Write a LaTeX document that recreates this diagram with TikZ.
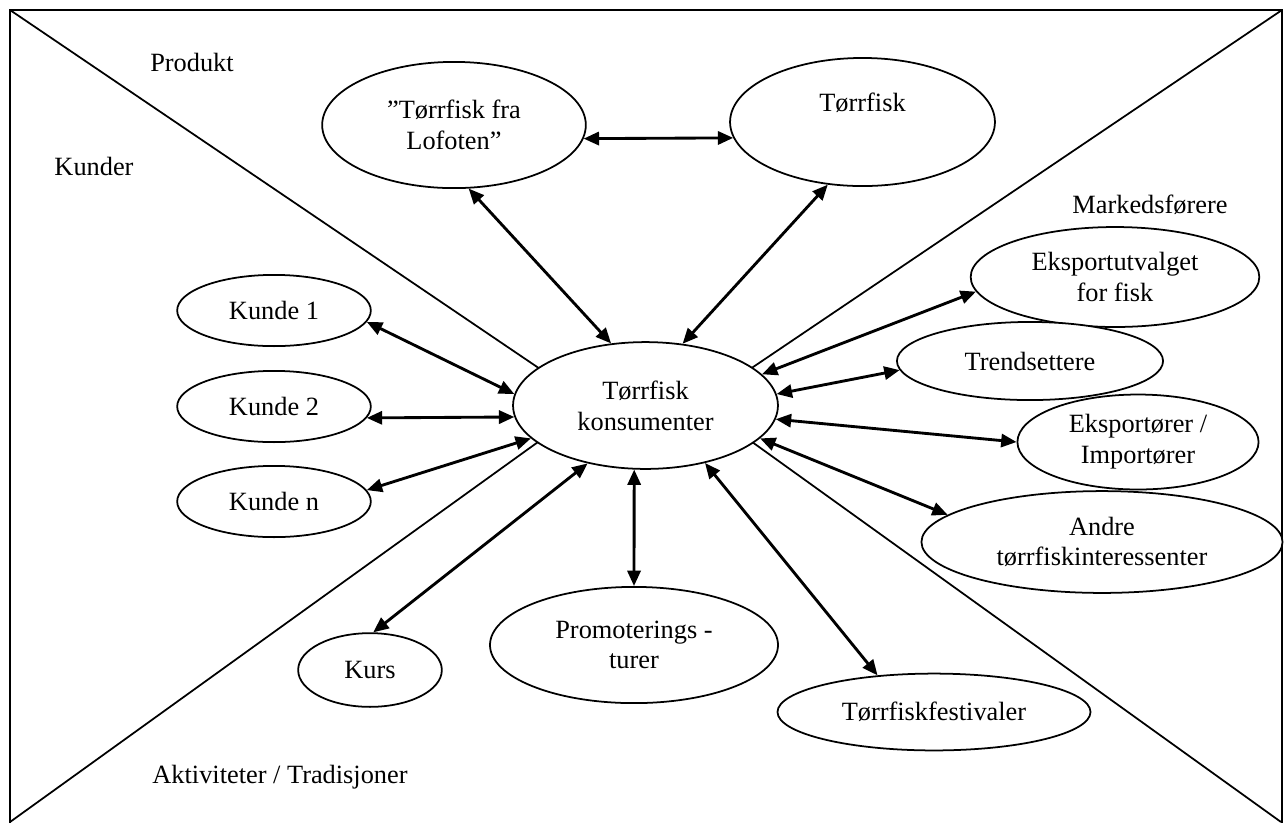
\documentclass[tikz,border=0pt,12pt]{standalone}
\usepackage{fontspec}
\setmainfont{Liberation Serif}
\usetikzlibrary{shapes.geometric,arrows.meta}

\begin{document}
\begin{tikzpicture}[x=0.016cm,y=-0.016cm,
		every node/.append style={font=\fontsize{12}{14}\selectfont},
		bubble/.style={ellipse,draw,line width=0.8pt,fill=white,align=center,inner sep=1pt},
		biarrow/.style={{Triangle[length=7pt,width=6pt]}-{Triangle[length=7pt,width=6pt]},line width=1.3pt}]
	\useasboundingbox (0,0) rectangle (1284,823);
	% frame and the four corner lines
	\coordinate (tl) at (10,10);
	\coordinate (tr) at (1282,10);
	\coordinate (bl) at (10,822);
	\coordinate (br) at (1281,822);
	\coordinate (upmeet) at (645,440);
	\coordinate (lowmeet) at (645,365);
	\draw[line width=0.9pt] (10,823) -- (tl) -- (tr) -- (1282,823);
	\draw[line width=0.8pt] (tl) -- (upmeet) -- (tr);
	\draw[line width=0.8pt] (bl) -- (lowmeet) -- (br);
	% section labels
	\node (produkt) at (192,62) {Produkt};
	\node (kunder) at (94,166) {Kunder};
	\node (markedsforere) at (1150,205) {Markedsførere};
	\node (aktiviteter) at (280,777) {Aktiviteter / Tradisjoner};
	% ellipses
	\node[bubble,minimum width=4.24cm,minimum height=2.03cm] (konsument) at (645.5,405.5) {Tørrfisk\\konsumenter};
	\node[bubble,minimum width=4.22cm,minimum height=2.02cm] (lofoten) at (454,125) {”Tørrfisk fra\\Lofoten”};
	\node[bubble,minimum width=4.24cm,minimum height=2.05cm,text depth=18pt] (torrfisk) at (862.5,122) {Tørrfisk};
	\foreach \y/\k in {310.5/1,406.5/2,501.5/n} {
		\node[bubble,minimum width=3.1cm,minimum height=1.14cm] (kunde\k) at (274,\y) {Kunde \k};
	}
	\node[bubble,minimum width=4.62cm,minimum height=1.6cm] (utvalget) at (1115,277) {Eksportutvalget\\for fisk};
	\node[bubble,minimum width=4.26cm,minimum height=1.25cm] (trend) at (1030,361) {Trendsettere};
	\node[bubble,minimum width=3.86cm,minimum height=1.52cm] (eksport) at (1138,442) {Eksportører /\\Importører};
	\node[bubble,minimum width=5.78cm,minimum height=1.63cm] (andre) at (1102,542) {Andre\\tørrfiskinteressenter};
	\node[bubble,minimum width=5.01cm,minimum height=1.23cm] (festival) at (934,712) {Tørrfiskfestivaler};
	\node[bubble,minimum width=4.61cm,minimum height=1.86cm] (promo) at (634,645) {Promoterings -\\turer};
	\node[bubble,minimum width=2.3cm,minimum height=1.18cm] (kurs) at (370,670) {Kurs};
	% arrows
	\draw[biarrow] (kunde1.-7) -- (konsument.175);
	\draw[biarrow] (kunde2.-7) -- (konsument.185);
	\draw[biarrow] (kunden.7) -- (konsument.196);
	\draw[biarrow] (lofoten.-77) -- (konsument.119);
	\draw[biarrow] (lofoten.-6) -- (torrfisk.187);
	\draw[biarrow] (torrfisk.241) -- (konsument.59);
	\draw[biarrow] (konsument.15) -- (utvalget.186);
	\draw[biarrow] (konsument.5) -- (trend.184);
	\draw[biarrow] (konsument.-6) -- (eksport.180);
	\draw[biarrow] (konsument.-16) -- (andre.170);
	\draw[biarrow] (konsument.-44) -- (festival.147);
	\draw[biarrow] (konsument.-100) -- (promo.90);
	\draw[biarrow] (konsument.225) -- (kurs.85);
\end{tikzpicture}
\end{document}
